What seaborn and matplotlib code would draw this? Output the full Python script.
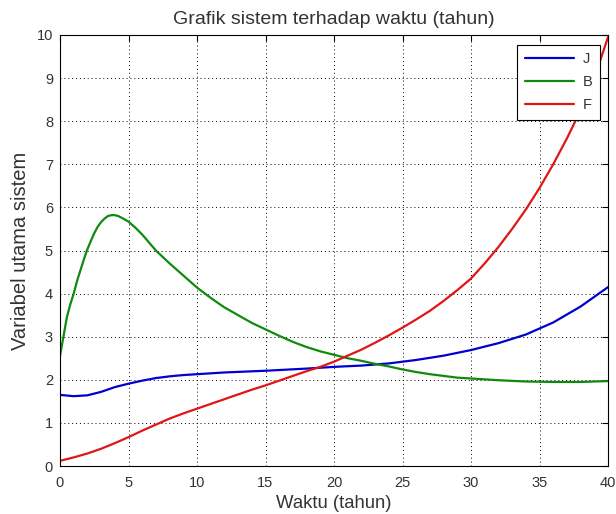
import numpy as np
import pandas as pd
import matplotlib
matplotlib.use("Agg")
import matplotlib.pyplot as plt
import seaborn as sns

# ---- data ----
t_J = [0, 1, 2, 3, 4, 5, 6, 7, 8, 9, 10, 12, 15, 18, 20, 22, 24, 26, 28, 30, 32, 34, 36, 38, 40]
J = [1.65, 1.62, 1.64, 1.72, 1.83, 1.91, 1.98, 2.04, 2.08, 2.11, 2.13, 2.17, 2.21, 2.26, 2.3, 2.33, 2.38,
     2.46, 2.56, 2.69, 2.85, 3.05, 3.33, 3.7, 4.15]

t_B = [0, 0.25, 0.5, 0.75, 1, 1.25, 1.5, 1.75, 2, 2.25, 2.5, 2.75, 3, 3.25, 3.5, 3.75, 4, 4.25, 4.5, 5,
       5.5, 6, 7, 8, 9, 10, 11, 12, 13, 14, 15, 16, 17, 18, 19, 20, 21, 22, 23, 24, 25, 26, 27, 28, 29,
       30, 32, 34, 36, 38, 40]
B = [2.55, 3.0, 3.45, 3.75, 4.0, 4.3, 4.55, 4.8, 5.03, 5.22, 5.4, 5.55, 5.66, 5.74, 5.8, 5.82, 5.82, 5.8,
     5.76, 5.67, 5.53, 5.37, 5.0, 4.7, 4.42, 4.14, 3.9, 3.68, 3.5, 3.32, 3.17, 3.02, 2.88, 2.76, 2.66,
     2.58, 2.5, 2.44, 2.37, 2.31, 2.24, 2.18, 2.13, 2.09, 2.05, 2.03, 1.99, 1.96, 1.95, 1.95, 1.97]

t_F = list(range(0, 41))
F = [0.12, 0.2, 0.29, 0.4, 0.53, 0.67, 0.82, 0.96, 1.1, 1.22, 1.33, 1.44, 1.55, 1.66, 1.77, 1.87, 1.98,
     2.09, 2.2, 2.3, 2.42, 2.56, 2.7, 2.86, 3.03, 3.21, 3.4, 3.6, 3.83, 4.08, 4.35, 4.7, 5.08, 5.5,
     5.95, 6.45, 7.0, 7.6, 8.25, 9.0, 9.95]

labels = ["J", "B", "F"]
colors = ["#0000d0", "#0f8a0f", "#e01515"]

df = pd.concat([
    pd.DataFrame({"t": t_J, "v": J, "s": "J"}),
    pd.DataFrame({"t": t_B, "v": B, "s": "B"}),
    pd.DataFrame({"t": t_F, "v": F, "s": "F"}),
], ignore_index=True)

sns.set_theme(style="white")
plt.rcParams["font.family"] = ["Liberation Sans", "DejaVu Sans"]

fig = plt.figure(figsize=(6.16, 5.14), dpi=100)
ax = fig.add_axes([60/616, 48/514, 548/616, 431/514])

sns.lineplot(data=df, x="t", y="v", hue="s", hue_order=labels,
             palette=dict(zip(labels, colors)), linewidth=1.6, ax=ax,
             sort=True, estimator=None)

txt = "#333333"
ax.set_xlim(0, 40)
ax.set_ylim(0, 10)
ax.set_xticks(range(0, 41, 5))
ax.set_yticks(range(0, 11, 1))
ax.grid(True, color="black", linestyle=(0, (1, 3)), linewidth=0.7)
for sp in ax.spines.values():
    sp.set_color("black")
    sp.set_linewidth(0.8)
ax.tick_params(axis="both", direction="in", length=4, width=0.8, top=True, right=True,
               labelsize=10.5, color="black", labelcolor=txt)
ax.tick_params(axis="x", pad=7)
ax.tick_params(axis="y", pad=5)
ax.set_xlabel("Waktu (tahun)", fontsize=13.3, labelpad=4, color=txt)
ax.set_ylabel("Variabel utama sistem", fontsize=14.5, labelpad=5, color=txt)
ax.set_title("Grafik sistem terhadap waktu (tahun)", fontsize=14, pad=8, color=txt)

leg = ax.legend(loc="upper right", bbox_to_anchor=(0.9854, 0.9768), fancybox=False,
                edgecolor="black", framealpha=1, fontsize=10.5, handlelength=3.4,
                handletextpad=0.6, borderaxespad=0, labelspacing=0.62, borderpad=0.5)
leg.get_frame().set_linewidth(0.8)
for t in leg.get_texts():
    t.set_color(txt)

fig.savefig("out.png", dpi=100)
